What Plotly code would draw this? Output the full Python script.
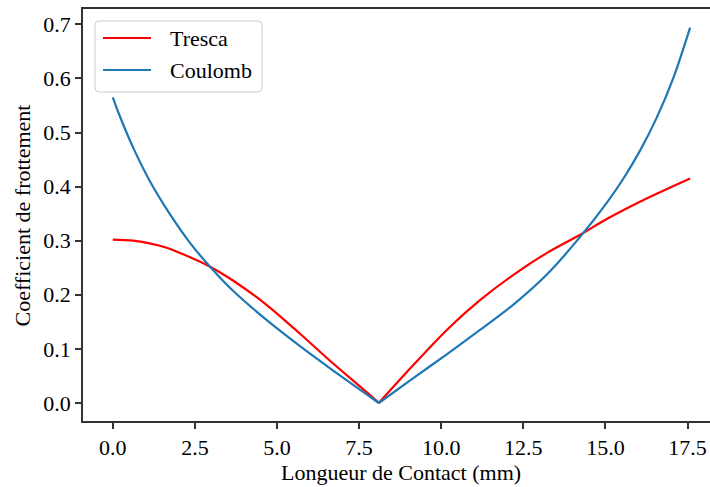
import plotly.graph_objects as go

# Contact length positions (mm) and friction coefficient along each model
x_tresca = [0.00, 0.62, 1.64, 2.25, 2.96, 3.67, 4.69, 5.70, 6.71, 7.73, 8.10,
            9.15, 10.17, 11.18, 12.20, 13.21, 14.23, 15.04, 16.05, 17.07, 17.58]
mu_tresca = [0.302, 0.300, 0.287, 0.272, 0.252, 0.226, 0.181, 0.128, 0.073, 0.020, 0.000,
             0.070, 0.135, 0.190, 0.237, 0.277, 0.311, 0.340, 0.372, 0.401, 0.415]

x_coulomb = [0.00, 0.17, 0.62, 1.13, 1.74, 2.35, 2.96, 3.67, 4.69, 5.70, 6.71, 7.73, 8.10,
             9.15, 10.17, 11.18, 12.20, 13.21, 14.23, 15.04, 15.55, 16.05, 16.56, 17.07, 17.58]
mu_coulomb = [0.565, 0.537, 0.472, 0.410, 0.349, 0.296, 0.252, 0.207, 0.153, 0.105, 0.060, 0.016, 0.000,
              0.046, 0.090, 0.135, 0.182, 0.237, 0.307, 0.370, 0.415, 0.466, 0.527, 0.601, 0.694]

series = [("Tresca", x_tresca, mu_tresca, "#ff0000"),
          ("Coulomb", x_coulomb, mu_coulomb, "#1f77b4")]

x_ticks = [0.0, 2.5, 5.0, 7.5, 10.0, 12.5, 15.0, 17.5]
y_ticks = [0.0, 0.1, 0.2, 0.3, 0.4, 0.5, 0.6, 0.7]

FONT = "Liberation Serif, Times New Roman, serif"
SIZE = 22

fig = go.Figure()

# each curve is split at its minimum so both branches are smoothed separately
# and the vertex stays sharp
for name, xs, ys, color in series:
    k = ys.index(min(ys))
    for seg_x, seg_y in ((xs[:k + 1], ys[:k + 1]), (xs[k:], ys[k:])):
        fig.add_trace(go.Scatter(x=seg_x, y=seg_y, mode="lines", name=name, showlegend=False,
                                 line=dict(color=color, width=2.2, shape="spline", smoothing=0.8)))

axis_common = dict(
    showgrid=False, zeroline=False, showline=True, linecolor="#333333", linewidth=1.6,
    ticks="outside", ticklen=6, tickwidth=1.6, tickcolor="#333333",
    tickfont=dict(family=FONT, size=SIZE, color="black"),
)

fig.update_xaxes(range=[-0.9074, 18.185], tickvals=x_ticks,
                 ticktext=[f"{v:.1f}" for v in x_ticks], mirror=True, **axis_common)
fig.update_yaxes(range=[-0.0333, 0.7283], tickvals=y_ticks,
                 ticktext=[f"{v:.1f}" for v in y_ticks], **axis_common)

fig.add_annotation(text="Longueur de Contact (mm)", xref="paper", yref="paper",
                   x=0.5072, y=-0.1262, xanchor="center", yanchor="middle", showarrow=False,
                   font=dict(family=FONT, size=SIZE, color="black"))
fig.add_annotation(text="Coefficient de frottement", xref="paper", yref="paper",
                   x=-0.0965, y=0.5, xanchor="center", yanchor="middle", showarrow=False,
                   textangle=-90, font=dict(family=FONT, size=SIZE, color="black"))

# legend box (rounded frame) with line samples and labels, in paper coordinates
PW, PH = 627.0, 412.0
bx0, bx1, by0, by1 = 0.0191, 0.2855, 0.7985, 0.9709
rx, ry = 4 / PW, 4 / PH
frame = (f"M {bx0 + rx},{by0} L {bx1 - rx},{by0} Q {bx1},{by0} {bx1},{by0 + ry} "
         f"L {bx1},{by1 - ry} Q {bx1},{by1} {bx1 - rx},{by1} "
         f"L {bx0 + rx},{by1} Q {bx0},{by1} {bx0},{by1 - ry} "
         f"L {bx0},{by0 + ry} Q {bx0},{by0} {bx0 + rx},{by0} Z")
fig.add_shape(type="path", path=frame, xref="paper", yref="paper",
              fillcolor="white", line=dict(color="#cccccc", width=1), layer="above")

entry_y = [0.9296, 0.8519]
for (name, _, _, color), ey in zip(series, entry_y):
    fig.add_shape(type="line", xref="paper", yref="paper", x0=0.0319, x1=0.1085, y0=ey, y1=ey,
                  line=dict(color=color, width=2.2), layer="above")
    fig.add_annotation(text=name, xref="paper", yref="paper", x=0.1356, y=ey,
                       xanchor="left", yanchor="middle", showarrow=False,
                       font=dict(family=FONT, size=SIZE, color="black"))

fig.update_layout(
    width=710, height=487,
    margin=dict(l=83, r=0, t=9, b=66),
    paper_bgcolor="white", plot_bgcolor="white",
    showlegend=False,
)

fig.write_html("out.html")
